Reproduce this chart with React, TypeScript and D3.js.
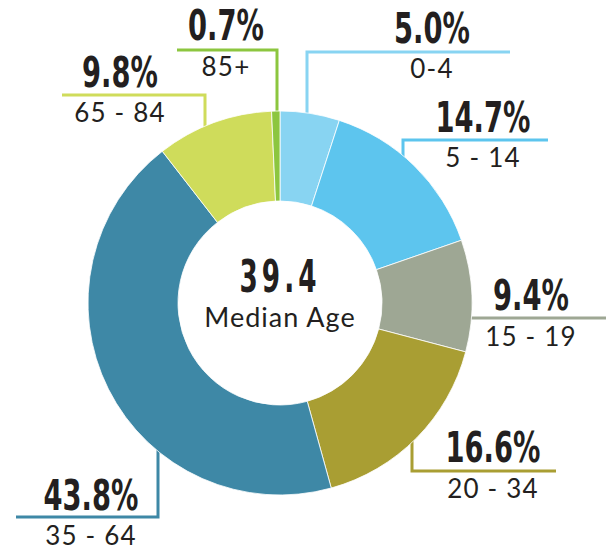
import React from 'react';
import * as d3 from 'd3';

// age breakdown, clockwise from 12 o'clock
const ageGroups = ['0-4', '5 - 14', '15 - 19', '20 - 34', '35 - 64', '65 - 84', '85+'];
const shares = [5.0, 14.7, 9.4, 16.6, 43.8, 9.8, 0.7];
const medianAge = 39.4;
const medianLabel = 'Median Age';

const colors = ['#88d4f2', '#5dc5ee', '#9ea794', '#a99e33', '#3e88a6', '#cfdc5b', '#8cc63f'];

// callout layout: dir = where the leader leaves the ring
const callouts = [
  { dir: 'up', x: 307, elbow: 52, end: 510, tx: 432, pctY: 43, ageY: 78 },
  { dir: 'up', x: 403, elbow: 140, end: 548, tx: 483, pctY: 132, ageY: 167 },
  { dir: 'right', y: 318, end: 606, tx: 531, pctY: 310, ageY: 346 },
  { dir: 'down', x: 412, elbow: 471, end: 556, tx: 493, pctY: 462, ageY: 498 },
  { dir: 'down', x: 158, elbow: 517, end: 16, tx: 91, pctY: 510, ageY: 545 },
  { dir: 'up', x: 205, elbow: 95, end: 62, tx: 120, pctY: 87, ageY: 122 },
  { dir: 'up', x: 277, elbow: 50, end: 177, tx: 226, pctY: 40, ageY: 76 },
];

const W = 612;
const H = 552;
const cx = 280;
const cy = 303;
const outerR = 192;
const innerR = 102;
const ink = '#231f20';
const boldFont = "'DejaVu Sans Condensed', 'DejaVu Sans', sans-serif";
const lightFont = "Lato, 'Open Sans', sans-serif";

export default function App() {
  const pie = d3.pie<number>().sort(null).value((d) => d);
  const arcs = pie(shares);
  const arc = d3.arc<d3.PieArcDatum<number>>().innerRadius(innerR).outerRadius(outerR);

  const leader = (c: any) => {
    if (c.dir === 'right') {
      const dy = c.y - cy;
      const x0 = cx + Math.sqrt(outerR * outerR - dy * dy) - 2;
      return `M${x0},${c.y}H${c.end}`;
    }
    const dx = c.x - cx;
    const h = Math.sqrt(outerR * outerR - dx * dx) - 2;
    const y0 = c.dir === 'up' ? cy - h : cy + h;
    return `M${c.x},${y0}V${c.elbow}H${c.end}`;
  };

  const pct = (v: number) => `${v.toFixed(1)}%`;

  return (
    <svg width={W} height={H} style={{ position: 'absolute', left: 0, top: 0, background: '#fff' }}>
      <g>
        {callouts.map((c, i) => (
          <path key={i} d={leader(c)} fill="none" stroke={colors[i]} strokeWidth={3} />
        ))}
      </g>
      <g transform={`translate(${cx},${cy})`}>
        {arcs.map((a, i) => (
          <path key={i} d={arc(a) || ''} fill={colors[i]} stroke="#fff" strokeWidth={0.8} />
        ))}
        <text
          transform="translate(0,-11) scale(0.68,1.05)"
          textAnchor="middle"
          fontFamily={boldFont}
          fontWeight="bold"
          fontSize={43}
          fill={ink}
          letterSpacing={6}
        >
          {medianAge.toFixed(1)}
        </text>
        <text
          y={24}
          textAnchor="middle"
          fontFamily={lightFont}
          fontWeight={400}
          fontSize={27}
          letterSpacing={1}
          fill={ink}
        >
          {medianLabel}
        </text>
      </g>
      <g>
        {callouts.map((c, i) => (
          <g key={i}>
            <text
              transform={`translate(${c.tx},${c.pctY}) scale(0.76,1.05)`}
              textAnchor="middle"
              fontFamily={boldFont}
              fontWeight="bold"
              fontSize={40}
              fill={ink}
            >
              {pct(shares[i])}
            </text>
            <text
              x={c.tx}
              y={c.ageY}
              textAnchor="middle"
              fontFamily={lightFont}
              fontWeight={400}
              fontSize={26}
              letterSpacing={1.2}
              fill={ink}
            >
              {ageGroups[i]}
            </text>
          </g>
        ))}
      </g>
    </svg>
  );
}
